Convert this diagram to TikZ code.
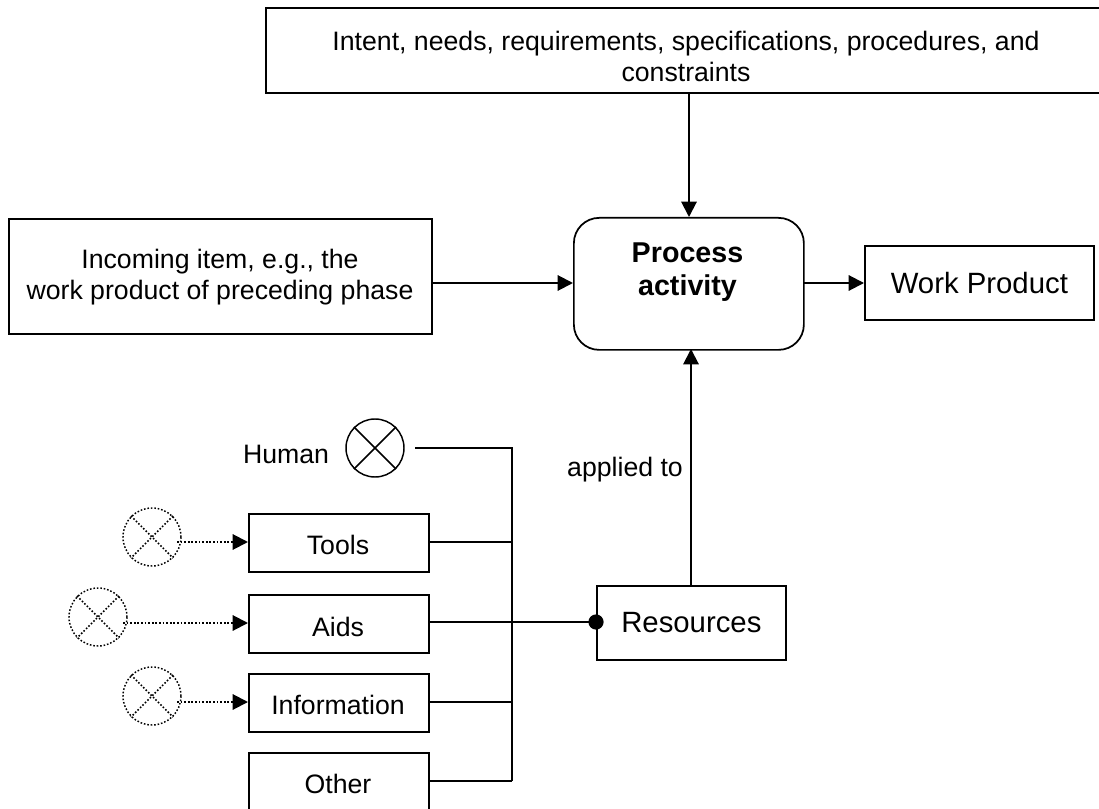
\documentclass[tikz,border=0pt]{standalone}
\usepackage{fontspec}
\setmainfont{Liberation Sans}
\usetikzlibrary{arrows.meta}
\tikzset{
  x=0.75pt,y=-0.75pt,
  boxstyle/.style={draw=black,line width=1.3pt,fill=white,inner sep=0pt,align=center,anchor=north west},
  txt/.style={font=\fontsize{20pt}{23.2pt}\selectfont,align=center},
  bigtxt/.style={font=\fontsize{22pt}{25pt}\selectfont,align=center},
  conn/.style={line width=1.5pt,draw=black},
  thin conn/.style={line width=1pt,draw=black},
  tip/.style={-{Triangle[length=11.5pt,width=11.5pt]}},
  dot conn/.style={line width=1.5pt,dash pattern=on 1.3pt off 1.4pt,tip},
  cross/.style={draw=black,circle,line width=1.1pt,minimum size=43.5pt,inner sep=0pt},
  dot cross/.style={cross,dash pattern=on 1.2pt off 1.4pt},
  dot stroke/.style={line width=1.1pt,dash pattern=on 1.2pt off 1.4pt},
}
\begin{document}
\begin{tikzpicture}
\useasboundingbox (0,0) rectangle (1099,809);
\begin{scope}
\clip (0,0) rectangle (1099,809);
\node[boxstyle,minimum width=842*0.75pt,minimum height=85*0.75pt] (top) at (265,7) {};
\node[txt] (toplabel) at (686,56.5) {Intent, needs, requirements, specifications, procedures, and\\constraints};
\node[boxstyle,minimum width=423*0.75pt,minimum height=115*0.75pt] (inc) at (8,218) {};
\node[txt,font=\fontsize{20pt}{22.8pt}\selectfont] (inclabel) at (220,277) {Incoming item, e.g., the\\work product of preceding phase};
\node[boxstyle,rounded corners=19pt,minimum width=230*0.75pt,minimum height=132*0.75pt] (proc) at (573,217) {};
\node[font=\bfseries\fontsize{21.5pt}{25pt}\selectfont,align=center] (proclabel) at (687.5,272) {Process\\activity};
\node[boxstyle,minimum width=229*0.75pt,minimum height=74*0.75pt,bigtxt] (wp) at (864,245) {Work Product};
\node[boxstyle,minimum width=189*0.75pt,minimum height=74*0.75pt,bigtxt] (res) at (596,585) {Resources};
\node[boxstyle,minimum width=180*0.75pt,minimum height=58*0.75pt] (tools) at (248,513) {};
\node[txt] (toolslabel) at (338,545) {Tools};
\node[boxstyle,minimum width=180*0.75pt,minimum height=58*0.75pt] (aids) at (248,594) {};
\node[txt] (aidslabel) at (338,627) {Aids};
\node[boxstyle,minimum width=180*0.75pt,minimum height=58*0.75pt] (info) at (248,673) {};
\node[txt] (infolabel) at (338,705) {Information};
\node[boxstyle,minimum width=180*0.75pt,minimum height=66*0.75pt] (other) at (248,752) {};
\node[txt] (otherlabel) at (338,784) {Other};
\node[cross] (hc) at (375,448) {};
\draw[line width=1.1pt] (hc.north west) -- (hc.south east) (hc.north east) -- (hc.south west);
\node[dot cross] (tc) at (152,537) {};
\node[dot cross] (ac) at (98,617) {};
\node[dot cross] (ic) at (152,696) {};
\foreach \n in {tc,ac,ic}{\draw[dot stroke] (\n.north west) -- (\n.south east) (\n.north east) -- (\n.south west);}
\node[txt] (hl) at (286,454) {Human};
\node[txt] (al) at (625,470) {applied to};
\coordinate (hs) at (415,448);
\coordinate (bus) at (512,622);
\coordinate (hb) at (512,448);
\coordinate (ob) at (512,781);
\draw[conn,tip] (top.south -| 689,0) -- (689,217);
\draw[conn,tip] (inc.east |- 0,283) -- (573,283);
\draw[conn,tip] (803,283) -- (864,283);
\draw[conn,tip] (691,585) -- (691,349);
\draw[conn] (hs) -- (hb) -- (ob);
\draw[thin conn] (428,542) -- (512,542);
\draw[thin conn] (428,622) -- (512,622);
\draw[thin conn] (428,702) -- (512,702);
\draw[thin conn] (ob) -- (428,781);
\draw[line width=1.8pt] (bus) -- (596,622);
\fill (596,622) circle[radius=5.7pt];
\draw[dot conn] (177,542) -- (248,542);
\draw[dot conn] (123,623) -- (248,623);
\draw[dot conn] (177,702) -- (248,702);
\end{scope}
\end{tikzpicture}
\end{document}
